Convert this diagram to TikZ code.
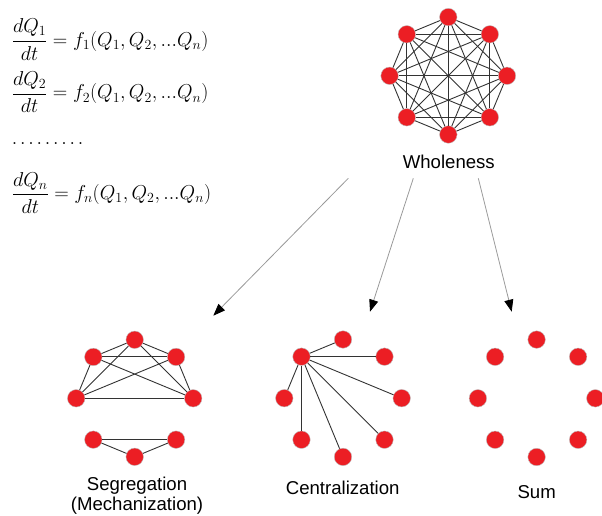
\documentclass[tikz,border=0pt]{standalone}
\usepackage{amsmath}
\usepackage{fontspec}
\setsansfont{Liberation Sans}
\usetikzlibrary{arrows.meta}

\definecolor{dotred}{RGB}{236,30,36}
\tikzset{
  netdot/.style={circle, fill=dotred, draw=black!25, line width=0.4pt, minimum size=17.5pt, inner sep=0pt},
  link/.style={black!80, line width=0.9pt},
  branch/.style={black!40, line width=0.8pt, -{Triangle[black, length=12pt, width=9pt]}},
  caption/.style={font=\sffamily\fontsize{18.6}{20}\selectfont, anchor=base, inner sep=0pt},
  eqn/.style={font=\huge, scale=0.97, anchor=base west, inner sep=0pt}
}

\begin{document}
\begin{tikzpicture}[x=1pt, y=-1pt]
    \useasboundingbox (0,0) rectangle (602,516);

    % Equations
    \node[eqn] (eq1) at (11.7,46.4) {$\dfrac{dQ_1}{dt} = f_1(Q_1, Q_2, ...Q_n)$};
    \node[eqn] (eq2) at (11.7,99.0) {$\dfrac{dQ_2}{dt} = f_2(Q_1, Q_2, ...Q_n)$};
    \node[eqn] (dots) at (11.7,144.0) {$.\mkern2.5mu.\mkern2.5mu.\mkern2.5mu.\mkern2.5mu.\mkern2.5mu.\mkern2.5mu.\mkern2.5mu.\mkern2.5mu.$};
    \node[eqn] (eqn) at (11.7,199.8) {$\dfrac{dQ_n}{dt} = f_n(Q_1, Q_2, ...Q_n)$};

    % Wholeness
    \begin{scope}[shift={(448.3,75.8)}]
        \foreach \k in {0,...,7}
            \node[netdot] (w\k) at (-90+45*\k:58.7) {};
        \foreach \i in {0,...,6} {
            \pgfmathtruncatemacro{\s}{\i+1}
            \foreach \j in {\s,...,7}
                \draw[link] (w\i) -- (w\j);
        }
    \end{scope}
    \node[caption] (whole) at (448.8,168.3) {Wholeness};

    % Arrows
    \coordinate (a1) at (348.3,178.3);
    \coordinate (a2) at (413.3,178.3);
    \coordinate (a3) at (478.3,178.3);
    \coordinate (b1) at (213.3,315.7);
    \coordinate (b2) at (370.0,311.7);
    \coordinate (b3) at (511.7,311.7);
    \draw[branch] (a1) -- (b1);
    \draw[branch] (a2) -- (b2);
    \draw[branch] (a3) -- (b3);

    % Segregation
    \begin{scope}[shift={(134.7,398.3)}]
        \foreach \k in {0,...,7}
            \node[netdot] (s\k) at (-90+45*\k:58.5) {};
        \foreach \a/\b in {7/0,0/1,7/1,6/2,7/6,1/2,0/6,0/2,7/2,1/6,3/4,4/5,5/3}
            \draw[link] (s\a) -- (s\b);
    \end{scope}
    \node[caption] (seg) at (137,490.7) {Segregation};
    \node[caption] (mech) at (137,510.7) {(Mechanization)};

    % Centralization
    \begin{scope}[shift={(343,398.2)}]
        \foreach \k in {0,...,7}
            \node[netdot] (c\k) at (-90+45*\k:58.7) {};
        \foreach \k in {0,...,6}
            \draw[link] (c7) -- (c\k);
    \end{scope}
    \node[caption] (cent) at (342.7,494.3) {Centralization};

    % Sum
    \begin{scope}[shift={(536.6,398.3)}]
        \foreach \k in {0,...,7}
            \node[netdot] (u\k) at (-90+45*\k:58.7) {};
    \end{scope}
    \node[caption] (sum) at (536.7,498.7) {Sum};
\end{tikzpicture}
\end{document}
